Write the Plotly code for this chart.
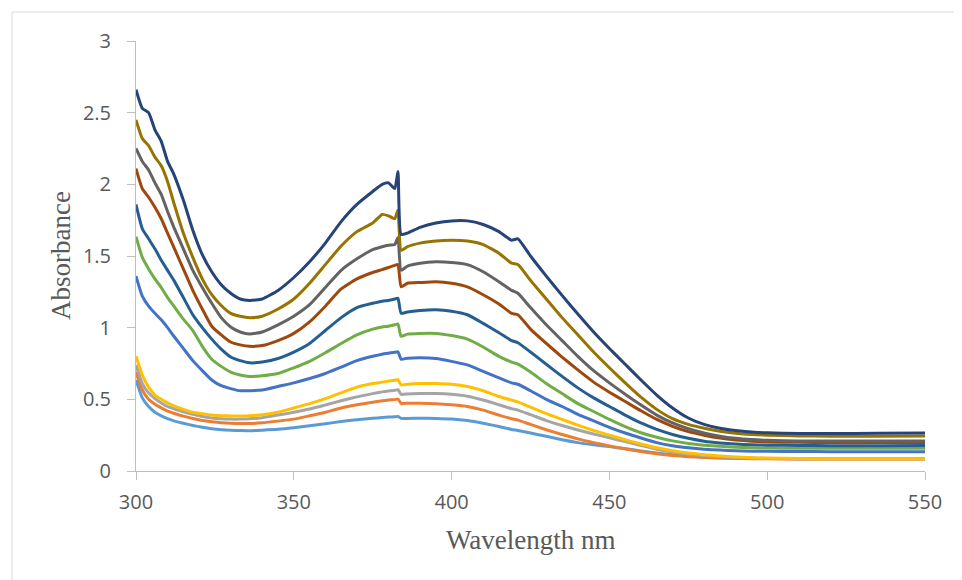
import plotly.graph_objects as go

wavelength = [300, 302, 304, 306, 308, 310, 312, 315, 318, 321, 324, 327, 330, 333, 336,
              340, 345, 350, 355, 360, 365, 370, 375, 378, 380, 382, 383, 384, 386,
              390, 395, 400, 405, 410, 415, 419, 421, 425, 430, 435, 440, 445, 450,
              455, 460, 465, 470, 475, 480, 485, 490, 495, 500, 510, 520, 535, 550]

s1 = [0.635, 0.51, 0.45, 0.41, 0.385, 0.365, 0.35, 0.333, 0.318, 0.305, 0.295, 0.288, 0.284, 0.282, 0.281,
      0.285, 0.291, 0.302, 0.315, 0.33, 0.345, 0.358, 0.368, 0.373, 0.376, 0.378, 0.381, 0.367, 0.367,
      0.368, 0.367, 0.363, 0.352, 0.333, 0.31, 0.29, 0.283, 0.265, 0.242, 0.218, 0.198, 0.183, 0.17,
      0.155, 0.14, 0.125, 0.113, 0.104, 0.097, 0.093, 0.09, 0.088, 0.087, 0.086, 0.085, 0.085, 0.085]
s2 = [0.69, 0.565, 0.50, 0.465, 0.44, 0.418, 0.403, 0.383, 0.366, 0.353, 0.344, 0.337, 0.333, 0.331, 0.331,
      0.336, 0.348, 0.362, 0.385, 0.41, 0.44, 0.462, 0.48, 0.49, 0.495, 0.498, 0.502, 0.472, 0.473,
      0.473, 0.47, 0.462, 0.45, 0.425, 0.39, 0.365, 0.355, 0.325, 0.288, 0.255, 0.224, 0.198, 0.175,
      0.155, 0.136, 0.12, 0.108, 0.10, 0.094, 0.09, 0.088, 0.086, 0.085, 0.084, 0.084, 0.084, 0.084]
s3 = [0.74, 0.61, 0.545, 0.505, 0.475, 0.45, 0.435, 0.413, 0.395, 0.38, 0.37, 0.364, 0.362, 0.362, 0.364,
      0.372, 0.39, 0.41, 0.432, 0.46, 0.49, 0.517, 0.54, 0.552, 0.558, 0.563, 0.567, 0.535, 0.538,
      0.54, 0.54, 0.535, 0.522, 0.495, 0.462, 0.435, 0.425, 0.393, 0.352, 0.317, 0.286, 0.258, 0.232,
      0.205, 0.178, 0.152, 0.132, 0.117, 0.106, 0.099, 0.094, 0.09, 0.088, 0.086, 0.085, 0.085, 0.085]
s4 = [0.80, 0.67, 0.585, 0.53, 0.50, 0.475, 0.455, 0.43, 0.41, 0.40, 0.39, 0.386, 0.384, 0.384, 0.386,
      0.393, 0.41, 0.44, 0.47, 0.505, 0.545, 0.585, 0.61, 0.62, 0.627, 0.633, 0.637, 0.60, 0.605,
      0.61, 0.61, 0.605, 0.59, 0.56, 0.52, 0.495, 0.482, 0.445, 0.40, 0.36, 0.32, 0.283, 0.25,
      0.218, 0.188, 0.162, 0.142, 0.126, 0.114, 0.105, 0.098, 0.093, 0.09, 0.087, 0.085, 0.085, 0.085]
s5 = [1.36, 1.22, 1.15, 1.10, 1.055, 1.00, 0.94, 0.855, 0.77, 0.70, 0.635, 0.595, 0.575, 0.56, 0.56,
      0.565, 0.59, 0.615, 0.645, 0.68, 0.725, 0.77, 0.80, 0.815, 0.822, 0.828, 0.832, 0.78, 0.787,
      0.79, 0.785, 0.765, 0.74, 0.695, 0.65, 0.615, 0.605, 0.56, 0.50, 0.45, 0.395, 0.35, 0.305,
      0.265, 0.23, 0.198, 0.176, 0.162, 0.152, 0.146, 0.141, 0.138, 0.137, 0.136, 0.135, 0.135, 0.135]
s6 = [1.635, 1.49, 1.41, 1.34, 1.28, 1.21, 1.15, 1.06, 0.98, 0.87, 0.78, 0.73, 0.69, 0.67, 0.66,
      0.665, 0.68, 0.72, 0.765, 0.825, 0.89, 0.95, 0.99, 1.005, 1.01, 1.02, 1.025, 0.94, 0.955,
      0.96, 0.96, 0.945, 0.92, 0.865, 0.80, 0.76, 0.745, 0.69, 0.61, 0.54, 0.47, 0.415, 0.36,
      0.31, 0.267, 0.235, 0.21, 0.192, 0.18, 0.172, 0.166, 0.162, 0.16, 0.158, 0.158, 0.158, 0.158]
s7 = [1.86, 1.69, 1.62, 1.55, 1.47, 1.40, 1.33, 1.21, 1.09, 1.00, 0.92, 0.85, 0.795, 0.77, 0.755,
      0.76, 0.785, 0.83, 0.89, 0.98, 1.07, 1.14, 1.17, 1.185, 1.19, 1.20, 1.205, 1.10, 1.11,
      1.12, 1.125, 1.115, 1.09, 1.03, 0.965, 0.91, 0.895, 0.83, 0.745, 0.66, 0.58, 0.51, 0.45,
      0.39, 0.335, 0.29, 0.255, 0.228, 0.208, 0.196, 0.188, 0.183, 0.18, 0.178, 0.177, 0.177, 0.178]
s8 = [2.11, 1.97, 1.91, 1.84, 1.76, 1.66, 1.56, 1.41, 1.26, 1.13, 1.01, 0.95, 0.90, 0.88, 0.87,
      0.875, 0.91, 0.96, 1.04, 1.15, 1.27, 1.34, 1.385, 1.405, 1.42, 1.435, 1.44, 1.285, 1.31,
      1.315, 1.32, 1.31, 1.285, 1.23, 1.165, 1.10, 1.09, 0.99, 0.89, 0.795, 0.705, 0.62, 0.55,
      0.485, 0.42, 0.36, 0.312, 0.275, 0.25, 0.23, 0.217, 0.208, 0.203, 0.20, 0.198, 0.198, 0.198]
s9 = [2.25, 2.16, 2.10, 2.01, 1.93, 1.81, 1.70, 1.55, 1.40, 1.28, 1.17, 1.07, 1.005, 0.97, 0.955,
      0.97, 1.02, 1.08, 1.16, 1.28, 1.40, 1.48, 1.545, 1.565, 1.575, 1.58, 1.63, 1.40, 1.43,
      1.45, 1.46, 1.455, 1.44, 1.39, 1.32, 1.26, 1.24, 1.14, 1.02, 0.91, 0.80, 0.70, 0.615,
      0.535, 0.46, 0.39, 0.335, 0.295, 0.265, 0.243, 0.228, 0.219, 0.214, 0.21, 0.21, 0.21, 0.21]
s10 = [2.45, 2.32, 2.27, 2.19, 2.13, 2.02, 1.87, 1.66, 1.49, 1.34, 1.23, 1.155, 1.10, 1.08, 1.07,
       1.08, 1.13, 1.20, 1.31, 1.44, 1.57, 1.67, 1.73, 1.79, 1.78, 1.76, 1.82, 1.54, 1.565,
       1.59, 1.605, 1.61, 1.605, 1.58, 1.52, 1.45, 1.44, 1.33, 1.20, 1.07, 0.95, 0.83, 0.72,
       0.615, 0.515, 0.43, 0.365, 0.325, 0.298, 0.278, 0.264, 0.255, 0.25, 0.245, 0.243, 0.243, 0.245]
s11 = [2.66, 2.53, 2.50, 2.38, 2.30, 2.16, 2.07, 1.89, 1.68, 1.51, 1.39, 1.30, 1.24, 1.20, 1.19,
       1.20, 1.26, 1.35, 1.46, 1.59, 1.74, 1.86, 1.95, 2.00, 2.01, 1.97, 2.09, 1.65, 1.66,
       1.70, 1.73, 1.745, 1.745, 1.72, 1.67, 1.61, 1.62, 1.50, 1.36, 1.225, 1.095, 0.97, 0.855,
       0.745, 0.635, 0.53, 0.44, 0.37, 0.325, 0.298, 0.282, 0.272, 0.266, 0.262, 0.262, 0.263, 0.265]

series = [s1, s2, s3, s4, s5, s6, s7, s8, s9, s10, s11]
colors = ["#5B9BD5", "#ED7D31", "#A5A5A5", "#FFC000", "#4472C4", "#70AD47",
          "#255E91", "#9E480E", "#636363", "#997300", "#264478"]

x_ticks = [300, 350, 400, 450, 500, 550]
y_ticks = [0, 0.5, 1, 1.5, 2, 2.5, 3]
y_tick_text = ["0", "0.5", "1", "1.5", "2", "2.5", "3"]

fig = go.Figure()
for i, (vals, col) in enumerate(zip(series, colors)):
    fig.add_trace(go.Scatter(x=wavelength, y=vals, mode="lines",
                             line=dict(color=col, width=3, shape="spline", smoothing=0.5),
                             name=f"Series{i+1}", showlegend=False,
                             hoverinfo="skip"))

# page body has an 8px margin; figure box is offset by (8, 8)
OFF = 8
W, H = 962, 580
L, T = 136 - OFF, 41 - OFF
pw, ph = 789, 430
R = W - L - pw
B = H - T - ph

def px(xp):
    return (xp - OFF - L) / pw

def py(yp):
    return (T + ph - (yp - OFF)) / ph

tick_font = dict(family="Open Sans, sans-serif", size=20, color="#595959")
title_font = dict(family="Liberation Serif, Times New Roman, serif", size=27, color="#595959")

fig.update_layout(
    width=W, height=H,
    margin=dict(l=L, r=R, t=T, b=B, pad=0),
    paper_bgcolor="white", plot_bgcolor="white",
    showlegend=False,
    xaxis=dict(range=[300, 550], tickvals=x_ticks, ticktext=[str(v) for v in x_ticks],
               showgrid=False, zeroline=False, showline=True, linecolor="#BFBFBF", linewidth=1,
               ticks="outside", ticklen=8, tickcolor="#BFBFBF", tickwidth=1,
               tickfont=tick_font, ticklabelstandoff=5, fixedrange=True),
    yaxis=dict(range=[0, 3], tickvals=y_ticks, ticktext=y_tick_text,
               showgrid=False, zeroline=False, showline=True, linecolor="#BFBFBF", linewidth=1,
               ticks="outside", ticklen=8, tickcolor="#BFBFBF", tickwidth=1,
               tickfont=tick_font, ticklabelstandoff=12, fixedrange=True),
    shapes=[dict(type="rect", xref="paper", yref="paper",
                 x0=px(12), x1=px(1000), y0=py(610), y1=py(12),
                 line=dict(color="#D9D9D9", width=1), fillcolor="rgba(0,0,0,0)", layer="below")],
    annotations=[
        dict(text="Wavelength nm", xref="paper", yref="paper", x=0.5, y=py(540),
             xanchor="center", yanchor="middle", showarrow=False, font=title_font),
        dict(text="Absorbance", xref="paper", yref="paper", x=px(61), y=0.5,
             xanchor="center", yanchor="middle", textangle=-90, showarrow=False, font=title_font),
    ],
)

fig.write_html("out.html")
